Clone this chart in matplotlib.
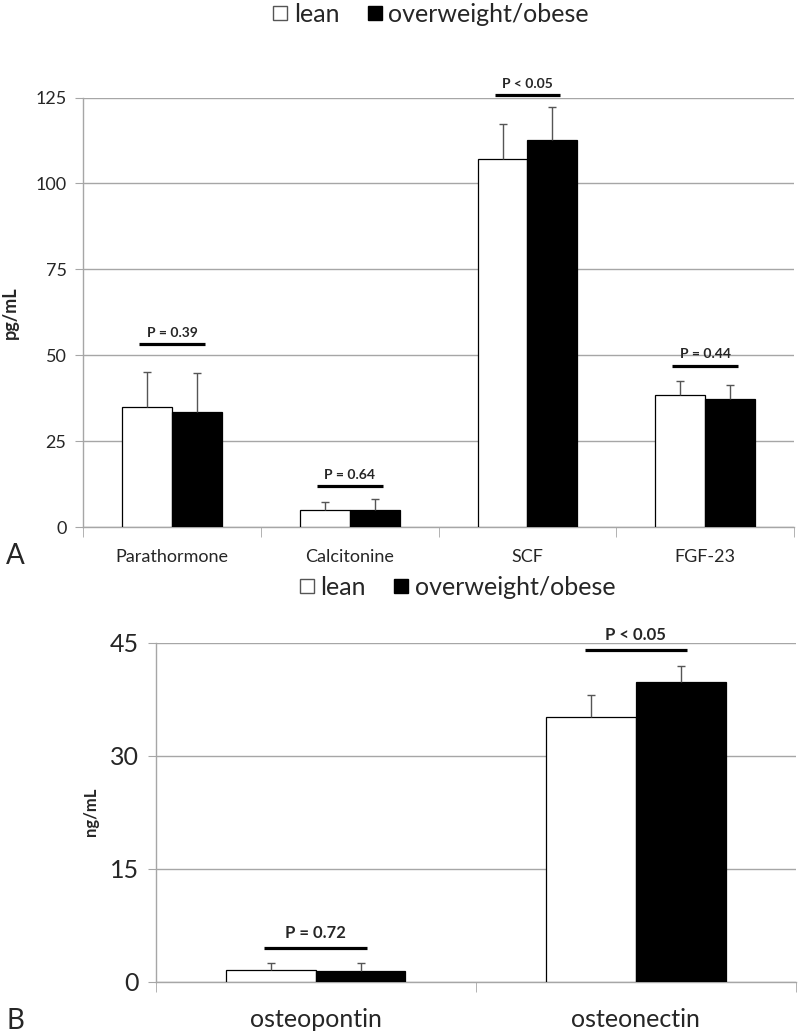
import matplotlib
matplotlib.use("Agg")
import matplotlib.pyplot as plt
from matplotlib.lines import Line2D
import numpy as np

plt.rcParams['font.family'] = ['Lato', 'DejaVu Sans']

# ---- panel A data (pg/mL) ----
cats_a = ['Parathormone', 'Calcitonine', 'SCF', 'FGF-23']
lean_a = [35.0, 4.9, 107.1, 38.4]
lean_err_a = [10.0, 2.5, 10.3, 4.0]
obese_a = [33.6, 4.9, 112.5, 37.2]
obese_err_a = [11.2, 3.2, 9.8, 4.0]
ptext_a = ['P = 0.39', 'P = 0.64', 'P < 0.05', 'P = 0.44']
pline_a = [53.2, 11.9, 125.6, 46.9]
yticks_a = [0, 25, 50, 75, 100, 125]

# ---- panel B data (ng/mL) ----
cats_b = ['osteopontin', 'osteonectin']
lean_b = [1.55, 35.1]
lean_err_b = [0.95, 3.0]
obese_b = [1.38, 39.8]
obese_err_b = [1.06, 2.1]
ptext_b = ['P = 0.72', 'P < 0.05']
pline_b = [4.5, 44.0]
yticks_b = [0, 15, 30, 45]

GRID = '#a6a6a6'
TXT = '#262626'


def panel(ax, cats, lean, lean_err, obese, obese_err, ptext, pline, yticks,
          tick_fs, cat_fs, p_fs, half, p_gap, cat_pad):
    x = np.arange(len(cats))
    w = 0.28
    ax.bar(x - w / 2, lean, w, color='white', edgecolor='black', linewidth=0.9, zorder=3)
    ax.bar(x + w / 2, obese, w, color='black', edgecolor='black', linewidth=0.9, zorder=3)
    # upper error bars only
    for xs, v, e in [(x - w / 2, lean, lean_err), (x + w / 2, obese, obese_err)]:
        v = np.array(v)
        e = np.array(e)
        ax.vlines(xs, v, v + e, color='#555555', lw=1.0, zorder=4)
        ax.plot(xs, v + e, ls='none', marker='_', ms=6, mew=1.0, color='#555555', zorder=4)
    # p-value bars
    for xi, t, yl in zip(x, ptext, pline):
        ax.plot([xi - half, xi + half], [yl, yl], color='black', lw=2.3,
                solid_capstyle='butt', clip_on=False, zorder=5)
        ax.text(xi, yl + p_gap, t, ha='center', va='bottom', fontsize=p_fs,
                fontweight='bold', color=TXT, clip_on=False)
    ax.set_xlim(-0.5, len(cats) - 0.5)
    ax.set_ylim(yticks[0], yticks[-1])
    ax.set_yticks(yticks)
    ax.yaxis.grid(True, color=GRID, lw=1.0, zorder=0)
    ax.set_axisbelow(True)
    ax.set_xticks(x)
    ax.set_xticklabels(cats, fontsize=cat_fs, color=TXT)
    ax.set_xticks(np.arange(len(cats) + 1) - 0.5, minor=True)
    ax.tick_params(axis='x', which='major', length=0, pad=cat_pad)
    ax.tick_params(axis='x', which='minor', length=7, color=GRID, direction='out')
    ax.tick_params(axis='y', length=6, color=GRID, labelsize=tick_fs, labelcolor=TXT, pad=6)
    for s in ['top', 'right']:
        ax.spines[s].set_visible(False)
    for s in ['left', 'bottom']:
        ax.spines[s].set_color(GRID)
        ax.spines[s].set_linewidth(1.0)


fig = plt.figure(figsize=(8, 10.34), dpi=100)

ax1 = fig.add_axes([0.104, 0.4903, 0.8885, 0.4154])
panel(ax1, cats_a, lean_a, lean_err_a, obese_a, obese_err_a, ptext_a, pline_a, yticks_a,
      tick_fs=13, cat_fs=13, p_fs=10, half=0.185, p_gap=1.6, cat_pad=16)
ax1.set_ylabel('pg/mL', fontsize=13, fontweight='bold', color=TXT, labelpad=12)

ax2 = fig.add_axes([0.1945, 0.0506, 0.8005, 0.3278])
panel(ax2, cats_b, lean_b, lean_err_b, obese_b, obese_err_b, ptext_b, pline_b, yticks_b,
      tick_fs=18, cat_fs=18, p_fs=12, half=0.16, p_gap=0.9, cat_pad=19)
ax2.set_ylabel('ng/mL', fontsize=12, fontweight='bold', color=TXT, labelpad=8)

handles = [Line2D([], [], ls='none', marker='s', ms=10, mfc='white', mec='#555555', mew=1.0),
           Line2D([], [], ls='none', marker='s', ms=10, mfc='black', mec='black')]
labels = ['lean', 'overweight/obese']
for y, xc in [(0.986, 0.537), (0.432, 0.57)]:
    fig.legend(handles, labels, loc='center', bbox_to_anchor=(xc, y), ncol=2, frameon=False,
               fontsize=18, handletextpad=0.15, columnspacing=1.0, handlelength=0.8,
               labelcolor=TXT)

fig.text(0.008, 0.462, 'A', fontsize=20, color=TXT, va='center')
fig.text(0.008, 0.013, 'B', fontsize=20, color=TXT, va='center')

fig.savefig('out.png', dpi=100)
